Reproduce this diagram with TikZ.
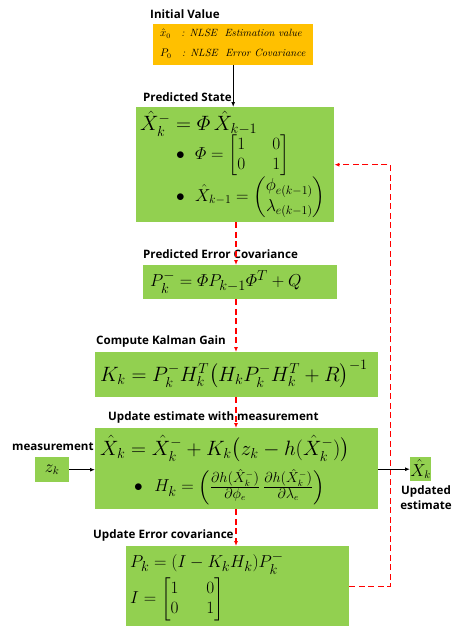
\documentclass[tikz,border=0pt]{standalone}
\usepackage{amsmath,amssymb}
\usepackage{fontspec}
\newfontfamily\lblfont{Open Sans}[BoldFont={Open Sans Bold}]
\usetikzlibrary{arrows.meta, positioning}
\definecolor{boxgreen}{HTML}{92D050}
\definecolor{boxorange}{HTML}{FFC000}
\definecolor{loopred}{HTML}{FF0000}
\tikzset{
  greenbox/.style={rectangle, fill=boxgreen, inner sep=0pt, anchor=north west},
  orangebox/.style={rectangle, fill=boxorange, inner sep=0pt, anchor=north west},
  steplabel/.style={anchor=west, inner sep=0pt, font=\lblfont\bfseries\fontsize{11.6}{13}\selectfont},
  eqtext/.style={anchor=west, inner sep=0pt, align=left},
  arrow/.style={-{Latex[length=5pt,width=4pt]}, line width=1.2pt},
  redarrow/.style={-{Latex[length=5pt,width=4pt]}, line width=1.4pt, loopred,
                   dash pattern=on 6pt off 3.5pt},
}

\begin{document}
\begin{tikzpicture}[x=1pt, y=-1pt]
  \useasboundingbox (0,0) rectangle (455,626);
  \coordinate (spine) at (236,0);

  % boxes
  \node[orangebox, minimum width=160pt, minimum height=41pt] (init) at (153,24) {};
  \node[greenbox, minimum width=198pt, minimum height=115pt] (pred) at (136,107) {};
  \node[greenbox, minimum width=194pt, minimum height=34pt] (pec) at (143,265) {};
  \node[greenbox, minimum width=283pt, minimum height=45pt] (kal) at (95,352) {};
  \node[greenbox, minimum width=283pt, minimum height=81pt] (est) at (95,428) {};
  \node[greenbox, minimum width=223pt, minimum height=80pt] (uec) at (126,546) {};
  \node[greenbox, minimum width=34pt, minimum height=25pt] (zk) at (35,457) {};
  \node[greenbox, minimum width=21pt, minimum height=24pt] (xk) at (410,457) {};

  % labels
  \node[steplabel] (lblinit) at (150,14) {Initial Value};
  \node[steplabel] (lblpred) at (143,97) {Predicted State};
  \node[steplabel] (lblpec) at (143,254) {Predicted Error Covariance};
  \node[steplabel] (lblkal) at (96,341) {Compute Kalman Gain};
  \node[steplabel] (lblest) at (108,417) {Update estimate with measurement};
  \node[steplabel] (lbluec) at (93,535) {Update Error covariance};
  \node[steplabel] (lblmeas) at (12,447) {measurement};
  \node[steplabel, anchor=north, align=center, font=\lblfont\bfseries\fontsize{11.6}{15}\selectfont]
    (lblupd) at (426,485) {Updated\\estimate};

  % initial value text
  \node[eqtext, font=\fontsize{10.5}{12}\selectfont] (initx) at (160,34)
    {$\hat{x}_0$ \ \ \textit{: NLSE\ \ Estimation value}};
  \node[eqtext, font=\fontsize{10.5}{12}\selectfont] (initp) at (160,54)
    {$P_0$ \ \ \textit{: NLSE\ \ Error Covariance}};

  % predicted state
  \node[eqtext, font=\fontsize{20}{24}\selectfont] (predeq) at (140,124)
    {$\hat{X}_k^{-} = \varPhi\,\hat{X}_{k-1}$};
  \node[eqtext, font=\fontsize{17}{20}\selectfont] (predphi) at (176,155)
    {$\bullet\ \ \varPhi = \begin{bmatrix} 1 & \quad 0\\ 0 & \quad 1\end{bmatrix}$};
  \node[eqtext, font=\fontsize{17}{20}\selectfont] (predx) at (176,197)
    {$\bullet\ \ \hat{X}_{k-1} = \begin{pmatrix} \phi_{e(k-1)}\\ \lambda_{e(k-1)}\end{pmatrix}$};

  % predicted error covariance
  \node[eqtext, font=\fontsize{19}{22}\selectfont] (peceq) at (150,282)
    {$P_k^{-} = \varPhi P_{k-1}\varPhi^{T} + Q$};

  % kalman gain
  \node[eqtext, font=\fontsize{20}{24}\selectfont] (kaleq) at (100,374)
    {$K_k = P_k^{-}H_k^{T}\bigl(H_k P_k^{-} H_k^{T} + R\bigr)^{-1}$};

  % update estimate
  \node[eqtext, font=\fontsize{20}{24}\selectfont] (esteq) at (100,449)
    {$\hat{X}_k = \hat{X}_k^{-} + K_k\bigl(z_k - h(\hat{X}_k^{-})\bigr)$};
  \node[eqtext, font=\fontsize{19}{22}\selectfont] (esth) at (134,487)
    {$\bullet\ \ H_k = \left(\frac{\partial h(\hat{X}_k^{-})}{\partial \phi_e}\,
      \frac{\partial h(\hat{X}_k^{-})}{\partial \lambda_e}\right)$};

  % update error covariance
  \node[eqtext, font=\fontsize{19}{22}\selectfont] (uceq) at (130,563)
    {$P_k = (I - K_k H_k)P_k^{-}$};
  \node[eqtext, font=\fontsize{18}{20}\selectfont] (ucI) at (130,599)
    {$I = \begin{bmatrix} 1 & \quad 0\\ 0 & \quad 1\end{bmatrix}$};

  % small boxes
  \node[font=\fontsize{16}{18}\selectfont, inner sep=0pt] (zktext) at (zk) {$z_k$};
  \node[font=\fontsize{16}{18}\selectfont, inner sep=0pt] (xktext) at (xk) {$\hat{X}_k$};

  % connectors
  \draw[arrow] (init.south) -- (init.south |- pred.north);
  \draw[redarrow] (spine |- pred.south) -- (spine |- pec.north);
  \draw[redarrow] (spine |- pec.south) -- (spine |- kal.north);
  \draw[redarrow] (spine |- kal.south) -- (spine |- est.north);
  \draw[redarrow] (spine |- est.south) -- (spine |- uec.north);
  \draw[redarrow] (uec.east) -- ++(41,0) |- (pred.east);
  \draw[arrow] (zk.east) -- (zk.east -| est.west);
  \draw[arrow] (est.east |- xk.west) -- (xk.west);
\end{tikzpicture}
\end{document}
